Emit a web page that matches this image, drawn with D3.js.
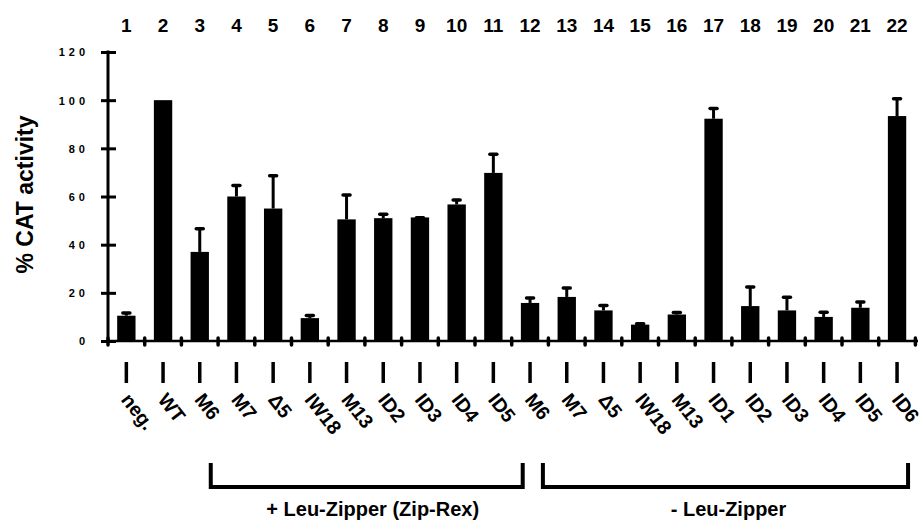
<!DOCTYPE html>
<html>
<head>
<meta charset="utf-8">
<script src="https://cdn.jsdelivr.net/npm/d3@7"></script>
<style>
  body { margin: 0; background: #fff; }
  text { font-family: "Liberation Sans", Arial, sans-serif; fill: #000; }
</style>
</head>
<body>
<div id="chart"></div>
<script>
// lane numbers, construct names, mean % CAT activity and top of error bar
var lanes = ["1","2","3","4","5","6","7","8","9","10","11","12","13","14","15","16","17","18","19","20","21","22"];
var constructs = ["neg.","WT","M6","M7","\u03945","IW18","M13","ID2","ID3","ID4","ID5",
                  "M6","M7","\u03945","IW18","M13","ID1","ID2","ID3","ID4","ID5","ID6"];
var activity = [10.5, 100, 37, 60, 55, 9.5, 50.5, 51, 51.3, 56.7, 69.8,
                15.8, 18.3, 12.7, 6.8, 11, 92.3, 14.5, 12.7, 10, 13.8, 93.4];
var errTop   = [12, 100, 47, 65, 69, 11, 61, 53, 51.6, 59, 78,
                18.3, 22.4, 15.2, 7.6, 12.2, 97, 22.8, 18.6, 12.4, 16.6, 101];
var yTicks = [0, 20, 40, 60, 80, 100, 120];
// groups: first and last lane (0-based, fractional offsets on the lane index)
var groups = [
  {name: "+ Leu-Zipper (Zip-Rex)", from: 2.3, to: 10.8},
  {name: "- Leu-Zipper", from: 11.35, to: 21.3}
];

var width = 922, height = 520;
var svg = d3.select("#chart").append("svg")
  .attr("width", width).attr("height", height);

var x = d3.scaleBand()
  .domain(d3.range(lanes.length))
  .range([108, 915.4])
  .paddingInner(0.5).paddingOuter(0.25);
var cx = function(i) { return x(i) + x.bandwidth() / 2; };
// lane index -> pixel, for brackets and axis marks
var xi = d3.scaleLinear().domain([0, lanes.length - 1]).range([cx(0), cx(lanes.length - 1)]);

var y = d3.scaleLinear().domain([0, 120]).range([341, 52]);

// y axis
var yAxis = svg.append("g")
  .attr("transform", "translate(108,0)")
  .call(d3.axisLeft(y).tickValues(yTicks).tickSize(7).tickPadding(0));
yAxis.select(".domain").remove();
yAxis.selectAll(".tick line").attr("x1", -7).attr("x2", 8)
  .attr("stroke", "#000").attr("stroke-width", 3);
yAxis.selectAll(".tick text")
  .attr("x", -19).attr("dy", "0.35em")
  .style("font-size", "11px").style("font-weight", "bold")
  .style("letter-spacing", "4px").attr("fill", "#000");
svg.append("line")
  .attr("x1", 108).attr("x2", 108).attr("y1", y(120) - 1.5).attr("y2", y(0) + 1)
  .attr("stroke", "#000").attr("stroke-width", 3);

// y title
svg.append("text")
  .attr("transform", "translate(33," + (y(60) - 2) + ") rotate(-90)")
  .attr("text-anchor", "middle")
  .style("font-size", "23px").style("font-weight", "bold")
  .text("% CAT activity");

// x axis line with marks between lanes
svg.append("line")
  .attr("x1", 108).attr("x2", 918).attr("y1", y(0)).attr("y2", y(0))
  .attr("stroke", "#000").attr("stroke-width", 2.5);
svg.selectAll("line.xmark")
  .data(d3.range(lanes.length + 1))
  .enter().append("line")
  .attr("class", "xmark")
  .attr("x1", d => xi(d - 0.5)).attr("x2", d => xi(d - 0.5))
  .attr("y1", y(0) - 3).attr("y2", y(0) + 4)
  .attr("stroke", "#000").attr("stroke-width", 3.5).attr("stroke-linecap", "round");

// bars
svg.selectAll("rect.bar")
  .data(activity)
  .enter().append("rect")
  .attr("class", "bar")
  .attr("x", (d, i) => x(i)).attr("width", x.bandwidth())
  .attr("y", d => y(d)).attr("height", d => y(0) - y(d))
  .attr("fill", "#000");

// error bars (only where the error top is above the bar)
var errs = errTop.map((e, i) => ({i: i, v: activity[i], e: e})).filter(d => d.e > d.v);
svg.selectAll("line.err")
  .data(errs)
  .enter().append("line")
  .attr("class", "err")
  .attr("x1", d => cx(d.i)).attr("x2", d => cx(d.i))
  .attr("y1", d => y(d.v)).attr("y2", d => y(d.e))
  .attr("stroke", "#000").attr("stroke-width", 3);
svg.selectAll("line.cap")
  .data(errs)
  .enter().append("line")
  .attr("class", "cap")
  .attr("x1", d => cx(d.i) - 3.5).attr("x2", d => cx(d.i) + 3.5)
  .attr("y1", d => y(d.e) + 1).attr("y2", d => y(d.e) + 1)
  .attr("stroke", "#000").attr("stroke-width", 3.5).attr("stroke-linecap", "round");

// lane numbers on top
svg.selectAll("text.lane")
  .data(lanes)
  .enter().append("text")
  .attr("class", "lane")
  .attr("x", (d, i) => cx(i)).attr("y", 32)
  .attr("text-anchor", "middle")
  .style("font-size", "19px").style("font-weight", "bold")
  .text(d => d);

// dashes above labels
svg.selectAll("line.dash")
  .data(constructs)
  .enter().append("line")
  .attr("class", "dash")
  .attr("x1", (d, i) => cx(i)).attr("x2", (d, i) => cx(i))
  .attr("y1", 362).attr("y2", 383)
  .attr("stroke", "#000").attr("stroke-width", 3.5);

// construct labels
svg.selectAll("text.construct")
  .data(constructs)
  .enter().append("text")
  .attr("class", "construct")
  .attr("transform", (d, i) => "translate(" + (cx(i) - 6) + ",400) rotate(52)")
  .style("font-size", "19.5px").style("font-weight", "bold")
  .text(d => d);

// brackets
svg.selectAll("path.bracket")
  .data(groups)
  .enter().append("path")
  .attr("class", "bracket")
  .attr("d", d => "M" + xi(d.from) + ",463V487H" + xi(d.to) + "V463")
  .attr("fill", "none").attr("stroke", "#000").attr("stroke-width", 4);
svg.selectAll("text.group")
  .data(groups)
  .enter().append("text")
  .attr("class", "group")
  .attr("x", d => (xi(d.from) + xi(d.to)) / 2 + (d.from < 5 ? 6 : 3)).attr("y", 516)
  .attr("text-anchor", "middle")
  .style("font-size", "20px").style("font-weight", "bold")
  .text(d => d.name);
</script>
</body>
</html>
